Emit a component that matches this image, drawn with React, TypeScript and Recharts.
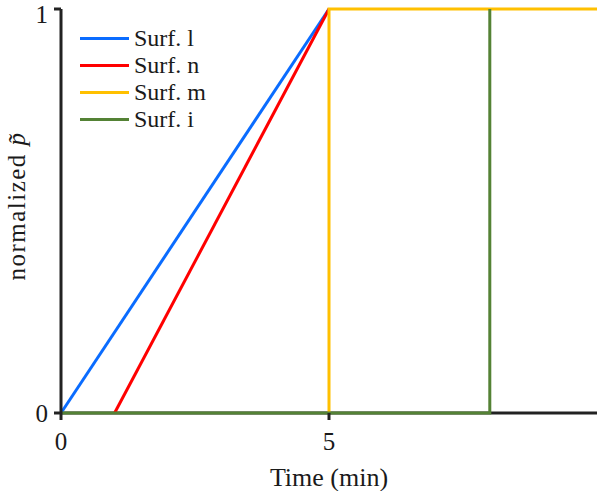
import React from 'react';
import { LineChart, Line, XAxis, YAxis, ReferenceLine } from 'recharts';

// time (min) and normalized p~ for each surface
const surfLTime = [0, 5];
const surfLValue = [0, 1];
const surfNTime = [1, 5];
const surfNValue = [0, 1];
const surfMTime = [5, 5, 10];
const surfMValue = [0, 1, 1];
const surfITime = [0, 8, 8];
const surfIValue = [0, 0, 1];

const xTicks = [0, 5];
const yTicks = [0, 1];

const series = [
  { name: 'Surf. l', color: '#0a6cff', t: surfLTime, v: surfLValue },
  { name: 'Surf. n', color: '#ff0000', t: surfNTime, v: surfNValue },
  { name: 'Surf. m', color: '#ffc000', t: surfMTime, v: surfMValue },
  { name: 'Surf. i', color: '#548235', t: surfITime, v: surfIValue },
];

const FONT = "'Times New Roman', 'Liberation Serif', serif";
const AXIS = '#222222';
const TXT = '#1a1a1a';

const toPoints = (t: number[], v: number[]) => t.map((x, i) => ({ t: x, p: v[i] }));

// legend sits inside the plot, top-left
const LegendBox = () => (
  <div style={{ position: 'absolute', left: 80, top: 25, fontFamily: FONT, fontSize: 24, color: TXT }}>
    {series.map((s) => (
      <div key={s.name} style={{ display: 'flex', alignItems: 'center', height: 27 }}>
        <span style={{ display: 'inline-block', width: 49, height: 3, background: s.color, marginRight: 5 }} />
        <span style={{ lineHeight: '27px' }}>{s.name}</span>
      </div>
    ))}
  </div>
);

const YLabel = (props: any) => {
  const { viewBox } = props;
  const cx = 16;
  const cy = viewBox.y + viewBox.height / 2 - 5;
  return (
    <text
      x={cx}
      y={cy}
      transform={`rotate(-90, ${cx}, ${cy})`}
      textAnchor="middle"
      dominantBaseline="central"
      fontFamily={FONT}
      fontSize={25}
      letterSpacing={1.5}
      fill={TXT}
    >
      normalized <tspan fontStyle="italic">p&#x0303;</tspan>
    </text>
  );
};

export default function App() {
  return (
    <div style={{ position: 'absolute', left: 0, top: 0, width: 600, height: 491, background: '#fff' }}>
      <LineChart width={600} height={491} margin={{ top: 9, right: 3, left: 0, bottom: 0 }}>
        <XAxis
          type="number"
          dataKey="t"
          domain={[0, 10]}
          ticks={xTicks}
          allowDuplicatedCategory={false}
          height={78}
          axisLine={false}
          tickLine={{ stroke: AXIS, strokeWidth: 3 }}
          tickSize={7}
          tick={{ fontFamily: FONT, fontSize: 25, fill: TXT, dy: 10 }}
          label={{ value: 'Time (min)', position: 'insideBottom', offset: 5, fontFamily: FONT, fontSize: 26, fill: TXT }}
        />
        <YAxis
          type="number"
          dataKey="p"
          domain={[0, 1]}
          ticks={yTicks}
          width={61}
          stroke={AXIS}
          strokeWidth={3}
          tickSize={7}
          tick={{ fontFamily: FONT, fontSize: 25, fill: TXT, dx: -4 }}
          label={<YLabel />}
        />
        <ReferenceLine y={0} stroke={AXIS} strokeWidth={3} />
        {series.map((s) => (
          <Line
            key={s.name}
            name={s.name}
            data={toPoints(s.t, s.v)}
            dataKey="p"
            type="linear"
            stroke={s.color}
            strokeWidth={3}
            dot={false}
            activeDot={false}
            isAnimationActive={false}
          />
        ))}
      </LineChart>
      <LegendBox />
    </div>
  );
}
